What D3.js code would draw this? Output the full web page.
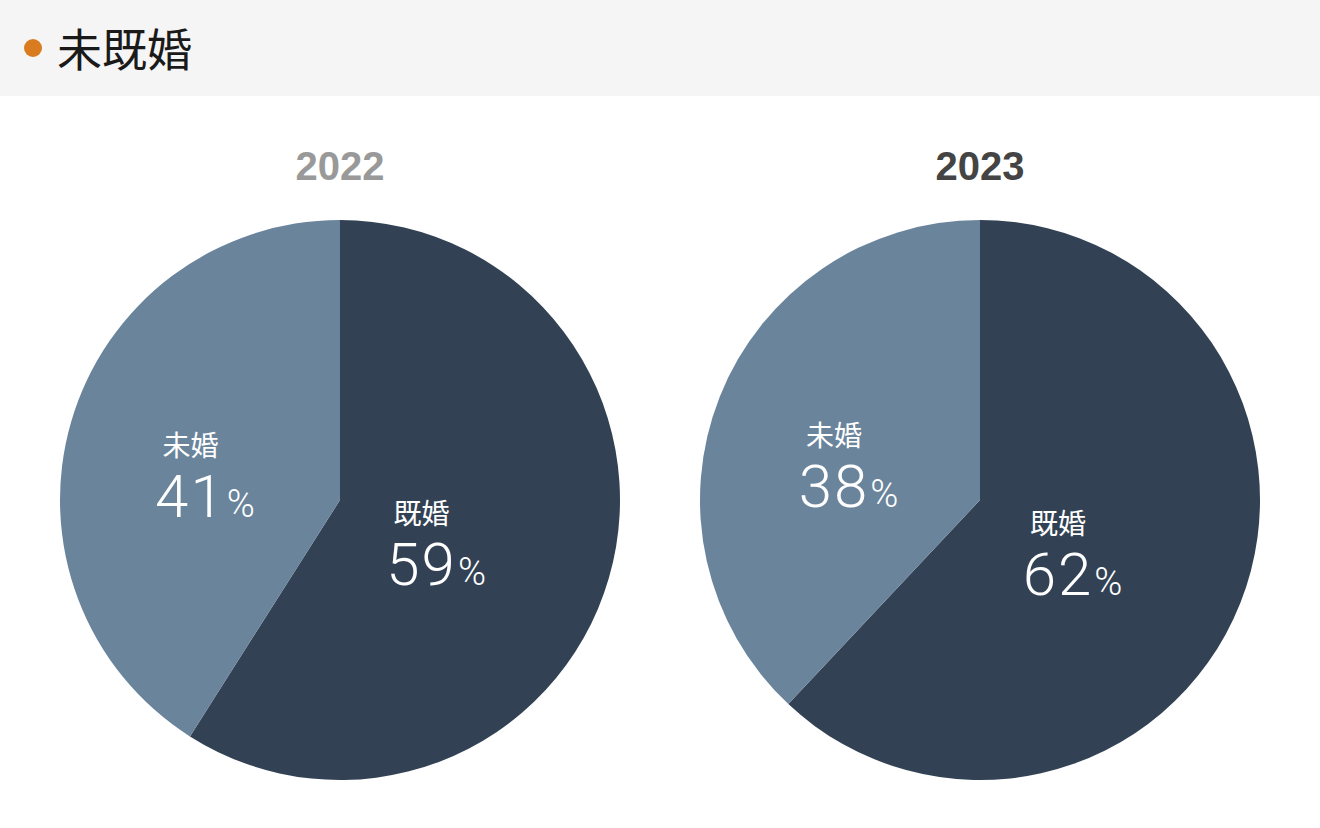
<!DOCTYPE html>
<html>
<head>
<meta charset="utf-8">
<script src="https://cdn.jsdelivr.net/npm/d3@7"></script>
<style>
  html, body { margin: 0; padding: 0; background: #fff; }
  svg { display: block; }
</style>
</head>
<body>
<div id="chart"></div>
<script>
// data
const title = "未既婚";
const years = ["2022", "2023"];
const categories = ["既婚", "未婚"];
const values2022 = [59, 41];
const values2023 = [62, 38];
const yearValues = [values2022, values2023];
const yearColors = ["#999999", "#444444"];

const width = 1320, height = 828;
const radius = 280;

let svg = d3.select('#chart').append('svg')
    .attr('width', width)
    .attr('height', height);

// header band
svg.append('rect')
    .attr('x', 0).attr('y', 0)
    .attr('width', width).attr('height', 96)
    .attr('fill', '#f5f5f5');
svg.append('circle')
    .attr('cx', 33).attr('cy', 48).attr('r', 9)
    .attr('fill', '#d97c20');
svg.append('text')
    .attr('x', 57).attr('y', 67)
    .attr('font-family', '"Noto Sans CJK JP", sans-serif')
    .attr('font-size', 45)
    .attr('fill', '#1a1a1a')
    .text(title);

let color = d3.scaleOrdinal()
    .domain(categories)
    .range(["#324254", "#6a849c"]);

let xPos = d3.scalePoint()
    .domain(years)
    .range([340, 980]);

let pie = d3.pie().sort(null).value(d => d.value);
let arc = d3.arc().innerRadius(0).outerRadius(radius);
let labelArc = d3.arc().innerRadius(radius * 0.43).outerRadius(radius * 0.43);

years.forEach(function(year, i){
    let data = categories.map((c, j) => ({name: c, value: yearValues[i][j]}));
    let g = svg.append('g')
        .attr('transform', 'translate(' + xPos(year) + ',500)');

    svg.append('text')
        .attr('x', xPos(year)).attr('y', 180)
        .attr('text-anchor', 'middle')
        .attr('font-family', '"Liberation Sans", Arial, sans-serif')
        .attr('font-weight', 'bold')
        .attr('font-size', 40)
        .attr('fill', yearColors[i])
        .text(year);

    g.selectAll('path')
        .data(pie(data))
        .join('path')
        .attr('d', arc)
        .attr('fill', d => color(d.data.name));

    let lab = g.selectAll('g.lab')
        .data(pie(data))
        .join('g')
        .attr('class', 'lab')
        .attr('transform', function(d){
            let c = labelArc.centroid(d);
            return 'translate(' + (c[0] - 34) + ',' + (c[1] + 9) + ')';
        });

    lab.append('text')
        .attr('y', -19)
        .attr('text-anchor', 'middle')
        .attr('font-family', '"Noto Sans CJK JP", sans-serif')
        .attr('font-size', 28)
        .attr('fill', '#fff')
        .text(d => d.data.name);

    let num = lab.append('text')
        .attr('y', 42)
        .attr('fill', '#fff')
        .attr('font-family', 'Roboto, sans-serif')
        .attr('font-weight', 300);
    num.append('tspan')
        .attr('font-size', 60)
        .attr('letter-spacing', 2)
        .text(d => d.data.value);
    num.append('tspan')
        .attr('font-size', 38)
        .attr('dx', 1)
        .text('%');
    // centre the digits under the category name, percent sign trails
    num.each(function(){
        let w = this.firstChild.getComputedTextLength();
        d3.select(this).attr('x', -w / 2);
    });
});
</script>
</body>
</html>
